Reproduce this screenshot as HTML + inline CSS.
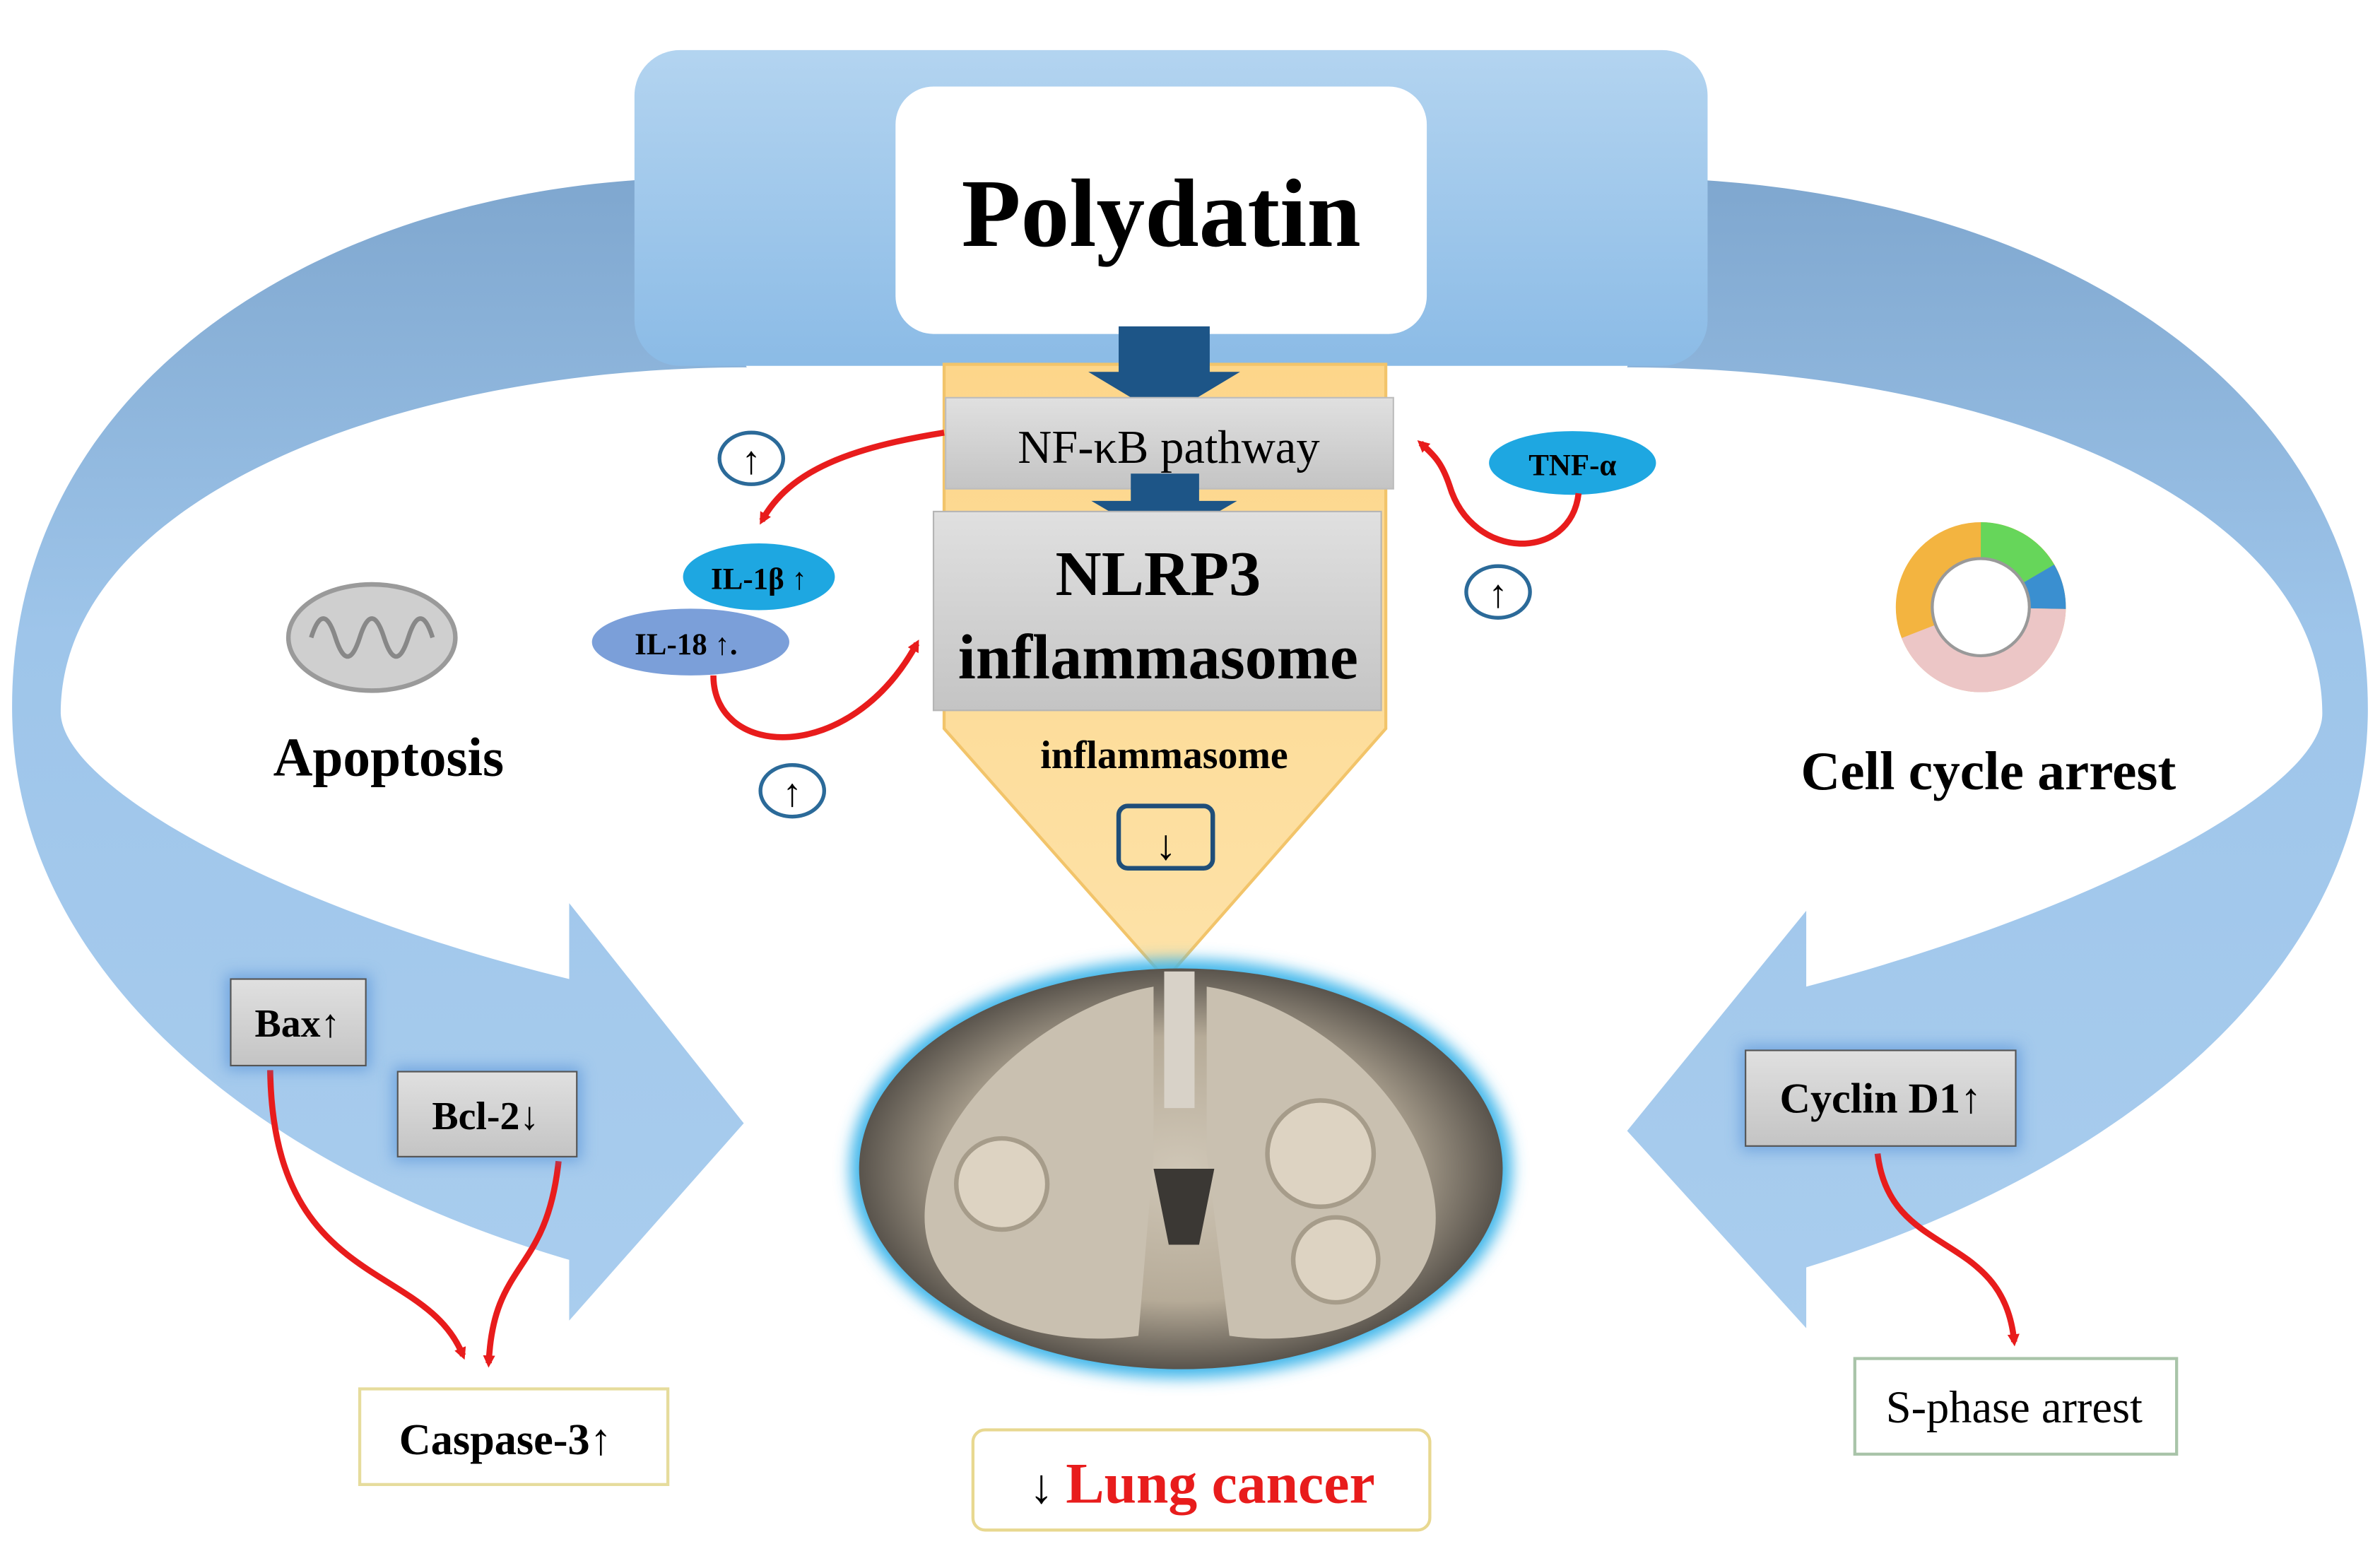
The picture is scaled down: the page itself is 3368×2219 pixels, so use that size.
<!DOCTYPE html>
<html><head><meta charset="utf-8"><style>
html,body{margin:0;padding:0;background:#fff;}
svg{display:block;}
text{font-family:"Liberation Serif",serif;}
</style></head><body>
<svg width="3368" height="2219" viewBox="0 0 1568 1033" preserveAspectRatio="none" xmlns="http://www.w3.org/2000/svg">
<defs>
<linearGradient id="band" x1="0" y1="0" x2="0" y2="1">
<stop offset="0" stop-color="#7fa7cf"/><stop offset="0.4" stop-color="#9ec5ea"/><stop offset="1" stop-color="#a9cdee"/>
</linearGradient>
<linearGradient id="banner" x1="0" y1="0" x2="0" y2="1">
<stop offset="0" stop-color="#b3d4f0"/><stop offset="1" stop-color="#8bbbe6"/>
</linearGradient>
<linearGradient id="yel" x1="0" y1="0" x2="0" y2="1">
<stop offset="0" stop-color="#fdd68a"/><stop offset="1" stop-color="#fde2a8"/>
</linearGradient>
<linearGradient id="gray" x1="0" y1="0" x2="0" y2="1">
<stop offset="0" stop-color="#e0e0e0"/><stop offset="1" stop-color="#c4c4c4"/>
</linearGradient>
<radialGradient id="lung" cx="0.5" cy="0.5" r="0.55">
<stop offset="0" stop-color="#cfc6b6"/><stop offset="0.6" stop-color="#b6ab98"/><stop offset="1" stop-color="#3e3a36"/>
</radialGradient>
<filter id="glow" x="-20%" y="-20%" width="140%" height="140%"><feGaussianBlur stdDeviation="5"/></filter>
<marker id="ra" markerWidth="8" markerHeight="8" refX="5" refY="4" orient="auto" markerUnits="userSpaceOnUse" viewBox="0 0 8 8"><path d="M0,0 L8,4 L0,8 z" fill="#e81c1c"/></marker>
</defs>

<!-- left band -->
<path d="M430,118 C200,130 5,260 8,470 C10,640 170,770 375,830 L375,870 L490,740 L375,595 L375,645 C190,600 42,520 40,470 C40,330 260,242 492,242 Z" fill="url(#band)"/>
<!-- right band -->
<path d="M1110,118 C1360,130 1562,260 1560,470 C1558,640 1400,770 1190,835 L1190,875 L1072,745 L1190,600 L1190,650 C1380,600 1530,520 1530,470 C1530,330 1310,242 1072,242 Z" fill="url(#band)"/>

<!-- banner -->
<rect x="418" y="33" width="707" height="208" rx="30" fill="url(#banner)"/>
<rect x="590" y="57" width="350" height="163" rx="25" fill="#fff"/>
<text x="765" y="162" font-size="64" font-weight="bold" text-anchor="middle">Polydatin</text>

<!-- yellow pentagon -->
<path d="M622,240 L913,240 L913,480 L768,645 L622,480 Z" fill="url(#yel)" stroke="#f2c46a" stroke-width="2"/>

<!-- arrows -->
<path d="M737,215 L797,215 L797,245 L817,245 L767,275 L717,245 L737,245 Z" fill="#1d5587"/>
<rect x="623" y="262" width="295" height="60" fill="url(#gray)" stroke="#bdbdbd"/>
<text x="770" y="305" font-size="31" text-anchor="middle">NF-κB pathway</text>
<path d="M745,312 L790,312 L790,330 L815,330 L767,358 L719,330 L745,330 Z" fill="#1d5587"/>
<rect x="615" y="337" width="295" height="131" fill="url(#gray)" stroke="#b5b5b5"/>
<text x="763" y="392" font-size="42" font-weight="bold" text-anchor="middle">NLRP3</text>
<text x="763" y="447" font-size="42" font-weight="bold" text-anchor="middle">inflammasome</text>
<text x="767" y="506" font-size="26" font-weight="bold" text-anchor="middle">inflammasome</text>
<rect x="737" y="531" width="62" height="41" rx="6" fill="none" stroke="#1f4e79" stroke-width="3"/>
<text x="768" y="566" font-size="28" text-anchor="middle">↓</text>

<!-- up circles -->
<g fill="none" stroke="#2b6a99" stroke-width="2.5">
<ellipse cx="495" cy="302" rx="21" ry="17"/>
<ellipse cx="522" cy="521" rx="21" ry="17"/>
<ellipse cx="987" cy="390" rx="21" ry="17"/>
</g>
<text x="495" y="312" font-size="26" text-anchor="middle">↑</text>
<text x="522" y="531" font-size="26" text-anchor="middle">↑</text>
<text x="987" y="400" font-size="26" text-anchor="middle">↑</text>

<!-- ellipses -->
<ellipse cx="500" cy="380" rx="50" ry="22" fill="#1ea7e1"/>
<text x="500" y="388" font-size="20" font-weight="bold" text-anchor="middle">IL-1β ↑</text>
<ellipse cx="455" cy="423" rx="65" ry="22" fill="#7b9fd9"/>
<text x="452" y="431" font-size="20" font-weight="bold" text-anchor="middle">IL-18 ↑.</text>
<ellipse cx="1036" cy="305" rx="55" ry="21" fill="#1ea7e1"/>
<text x="1036" y="313" font-size="20" font-weight="bold" text-anchor="middle">TNF-α</text>

<!-- red curves -->
<g fill="none" stroke="#e81c1c" stroke-width="4" marker-end="url(#ra)">
<path d="M622,285 C560,295 520,310 502,343"/>
<path d="M470,445 C470,500 560,505 604,424"/>
<path d="M1040,325 C1035,370 970,370 955,320 C950,305 945,300 936,292"/>
<path d="M178,705 C180,850 280,830 305,893"/>
<path d="M368,765 C360,840 325,830 322,898"/>
<path d="M1237,760 C1245,830 1320,810 1327,884"/>
</g>

<!-- mitochondria -->
<ellipse cx="245" cy="420" rx="55" ry="35" fill="#cfcfcf" stroke="#9a9a9a" stroke-width="3"/>
<path d="M205,420 q8,-25 16,0 q8,25 16,0 q8,-25 16,0 q8,25 16,0 q8,-25 16,0" fill="none" stroke="#888" stroke-width="3"/>
<text x="256" y="511" font-size="36" font-weight="bold" text-anchor="middle">Apoptosis</text>

<!-- cell cycle -->
<circle cx="1305" cy="400" r="44" fill="none" stroke="#f3b440" stroke-width="24" stroke-dasharray="0 0"/>
<path d="M1305,356 A44,44 0 0 1 1343,378" fill="none" stroke="#66d65a" stroke-width="24"/>
<path d="M1343,378 A44,44 0 0 1 1349,401" fill="none" stroke="#3a8fd0" stroke-width="24"/>
<path d="M1349,401 A44,44 0 0 1 1264,416" fill="none" stroke="#ecc6c6" stroke-width="24"/>
<circle cx="1305" cy="400" r="32" fill="#fff" stroke="#999" stroke-width="2"/>
<text x="1310" y="520" font-size="36" font-weight="bold" text-anchor="middle">Cell cycle arrest</text>

<!-- boxes -->
<g filter="none">
<rect x="149" y="642" width="95" height="63" fill="#3a7fd0" opacity="0.5" filter="url(#glow)"/>
<rect x="259" y="703" width="124" height="62" fill="#3a7fd0" opacity="0.5" filter="url(#glow)"/>
<rect x="1147" y="689" width="184" height="69" fill="#3a7fd0" opacity="0.5" filter="url(#glow)"/>
</g>
<rect x="152" y="645" width="89" height="57" fill="url(#gray)" stroke="#555"/>
<text x="196" y="683" font-size="26" font-weight="bold" text-anchor="middle">Bax↑</text>
<rect x="262" y="706" width="118" height="56" fill="url(#gray)" stroke="#555"/>
<text x="320" y="744" font-size="26" font-weight="bold" text-anchor="middle">Bcl-2↓</text>
<rect x="1150" y="692" width="178" height="63" fill="url(#gray)" stroke="#555"/>
<text x="1239" y="733" font-size="28" font-weight="bold" text-anchor="middle">Cyclin D1↑</text>

<rect x="237" y="915" width="203" height="63" fill="#fff" stroke="#e6dc9c" stroke-width="2"/>
<text x="333" y="958" font-size="29" font-weight="bold" text-anchor="middle">Caspase-3↑</text>
<rect x="1222" y="895" width="212" height="63" fill="#fff" stroke="#a9c4a9" stroke-width="2"/>
<text x="1327" y="937" font-size="30" text-anchor="middle">S-phase arrest</text>
<rect x="641" y="942" width="301" height="66" rx="8" fill="#fff" stroke="#e8d890" stroke-width="2"/>
<text x="792" y="990" font-size="38" text-anchor="middle"><tspan font-size="32">↓ </tspan><tspan fill="#e81c1c" font-weight="bold">Lung cancer</tspan></text>

<!-- lung -->
<ellipse cx="778" cy="770" rx="218" ry="138" fill="#3fb6ea" filter="url(#glow)"/>
<ellipse cx="778" cy="770" rx="212" ry="132" fill="url(#lung)"/>
<path d="M760,650 C700,660 620,720 610,790 C600,860 680,890 750,880 L760,760 Z" fill="#c9c0b0"/>
<path d="M795,650 C860,660 935,720 945,790 C955,860 880,890 810,880 L795,760 Z" fill="#c9c0b0"/>
<rect x="767" y="640" width="20" height="90" fill="#d8d2c8"/>
<path d="M760,770 L800,770 L790,820 L770,820 Z" fill="#3b3834"/>
<circle cx="660" cy="780" r="30" fill="#ddd3c2" stroke="#a69c8a" stroke-width="3"/>
<circle cx="870" cy="760" r="35" fill="#ddd3c2" stroke="#a69c8a" stroke-width="3"/>
<circle cx="880" cy="830" r="28" fill="#ddd3c2" stroke="#a69c8a" stroke-width="3"/>
</svg>
</body></html>
